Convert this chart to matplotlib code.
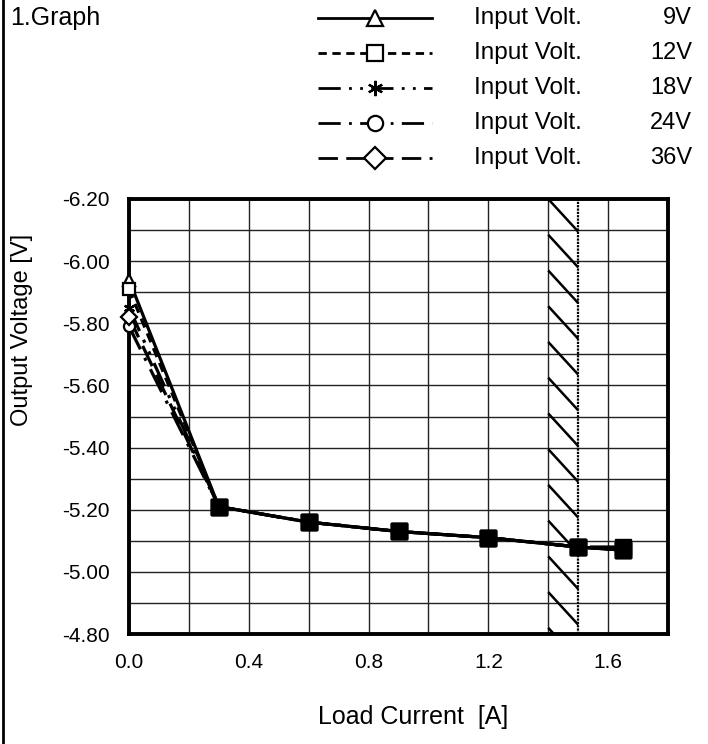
import numpy as np
import matplotlib
matplotlib.use("Agg")
import matplotlib.pyplot as plt
from matplotlib.lines import Line2D

plt.rcParams['font.family'] = ['Liberation Sans', 'DejaVu Sans']

# Data
load_current = [0.0, 0.3, 0.6, 0.9, 1.2, 1.5, 1.65]
v_9 = [-5.94, -5.21, -5.16, -5.13, -5.11, -5.08, -5.07]
v_12 = [-5.91, -5.21, -5.16, -5.13, -5.11, -5.08, -5.07]
v_18 = [-5.85, -5.21, -5.16, -5.13, -5.11, -5.08, -5.07]
v_24 = [-5.79, -5.21, -5.16, -5.13, -5.11, -5.08, -5.08]
v_36 = [-5.82, -5.21, -5.16, -5.13, -5.11, -5.08, -5.07]
volt_labels = ["9V", "12V", "18V", "24V", "36V"]
x_ticks = [0.0, 0.4, 0.8, 1.2, 1.6]
y_ticks = [-6.2, -6.0, -5.8, -5.6, -5.4, -5.2, -5.0, -4.8]

series = [v_9, v_12, v_18, v_24, v_36]
styles = [
    dict(ls='-', marker='^'),
    dict(ls=(0, (3, 2)), marker='s'),
    dict(ls=(0, (8, 3, 1, 3, 1, 3)), marker=(6, 2, 0)),
    dict(ls=(0, (8, 3, 1, 3)), marker='o'),
    dict(ls=(0, (7, 3)), marker='D'),
]

W, H = 708, 744
fig = plt.figure(figsize=(W / 100, H / 100), dpi=100)
ax = fig.add_axes([129 / W, 1 - 634 / H, (668 - 129) / W, (634 - 199) / H])

# hatched "not allowed" band between 1.4 and 1.5 A
band_lo, band_hi = 1.4, 1.5
for y0 in np.arange(-6.2, -4.8, 0.115):
    ax.plot([band_lo, band_hi], [y0, y0 + 0.105], color='black', lw=1.8,
            zorder=2, solid_capstyle='butt')
ax.axvline(band_hi, color='black', lw=1.6, ls=(0, (1, 0.5)), zorder=2)

for vals, st in zip(series, styles):
    ax.plot(load_current, vals, color='black', lw=2.3, ls=st['ls'], zorder=3)
    ax.plot(load_current[:1], vals[:1], color='black', ls='none',
            marker=st['marker'], ms=8, mfc='white', mew=1.6, zorder=4,
            clip_on=False)
    ax.plot(load_current[1:], vals[1:], color='black', ls='none',
            marker='s', ms=11.5, zorder=4)

ax.set_xlim(0, 1.8)
ax.set_ylim(-4.8, -6.2)
ax.set_xticks(x_ticks)
ax.set_xticklabels([f"{t:.1f}" for t in x_ticks], fontsize=15)
ax.set_xticks(np.arange(0.2, 1.8, 0.2), minor=True)
ax.set_yticks(y_ticks)
ax.set_yticklabels([f"{t:.2f}" for t in y_ticks], fontsize=15)
ax.set_yticks(np.arange(-6.1, -4.8, 0.2), minor=True)
ax.tick_params(which='both', length=0)
ax.tick_params(axis='x', pad=14)
ax.tick_params(axis='y', pad=14)
ax.grid(which='both', color='#222222', lw=1.0)
ax.set_axisbelow(True)
for sp in ax.spines.values():
    sp.set_linewidth(2.8)

fig.text(22 / W, 1 - 330 / H, "Output Voltage [V]", rotation=90,
         ha='center', va='center', fontsize=17)
fig.text(413 / W, 1 - 717 / H, "Load Current  [A]", ha='center',
         va='center', fontsize=18)
fig.text(10 / W, 1 - 18 / H, "1.Graph", ha='left', va='center', fontsize=18)

# legend drawn in pixel space at the top
lg = fig.add_axes([0, 0, 1, 1], facecolor='none')
lg.set_xlim(0, W)
lg.set_ylim(H, 0)
lg.axis('off')
row_y = [18, 53, 88, 123, 158]
for yy, st, lab in zip(row_y, styles, volt_labels):
    lg.plot([318, 432], [yy, yy], color='black', lw=2.0, ls=st['ls'])
    lg.plot([375], [yy], color='black', ls='none', marker=st['marker'],
            ms=11, mfc='white', mew=1.6)
    lg.text(474, yy, "Input Volt.", ha='left', va='center', fontsize=17.5)
    lg.text(692, yy, lab, ha='right', va='center', fontsize=17)

fig.add_artist(Line2D([3 / W, 3 / W], [0, 1], color='black', lw=2))

fig.savefig("out.png", dpi=100)
